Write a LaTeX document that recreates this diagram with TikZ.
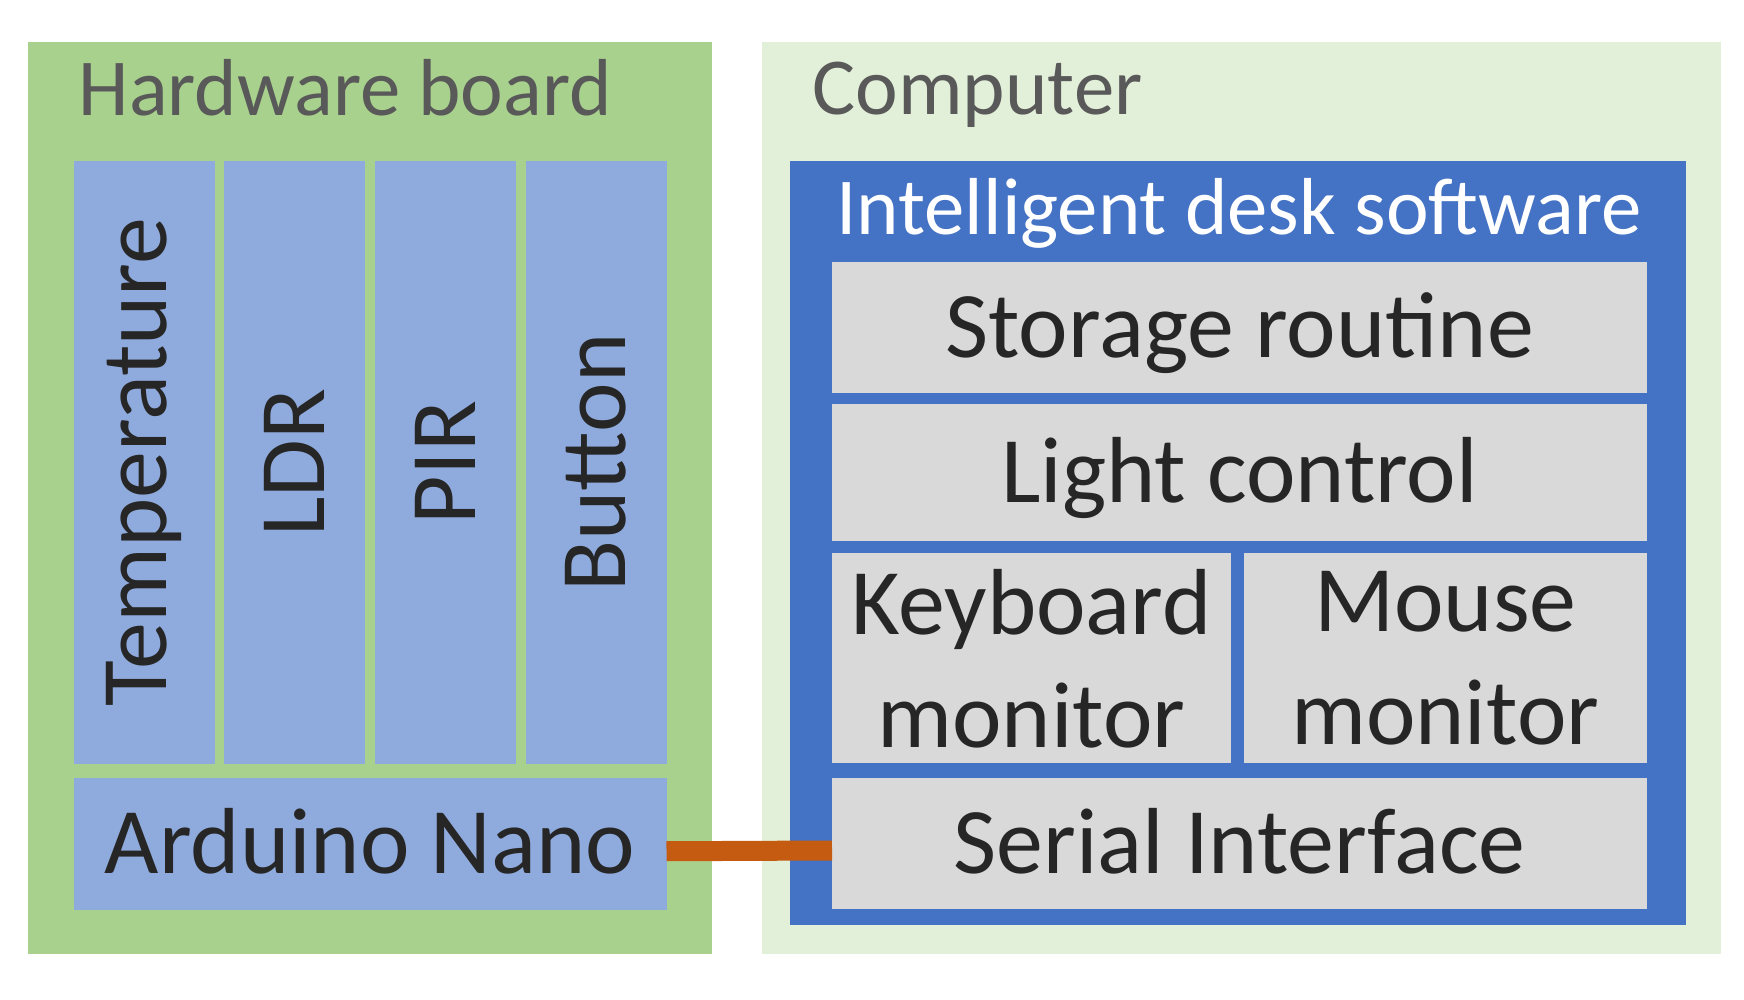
\documentclass[tikz,border=0pt]{standalone}
\usepackage{fontspec}
\setmainfont{Carlito}
\usetikzlibrary{positioning}
\definecolor{board-green}{HTML}{A9D18E}
\definecolor{pc-green}{HTML}{E2F0D9}
\definecolor{sw-blue}{HTML}{4472C4}
\definecolor{part-blue}{HTML}{8FAADC}
\definecolor{part-grey}{HTML}{D9D9D9}
\definecolor{wire}{HTML}{C55A11}
\colorlet{caption}{black!65}
\colorlet{body}{black!85}
\tikzset{
  unit/.style 2 args={
    rectangle,
    fill=#1,
    minimum width=#2,
    inner sep=0pt,
    outer sep=0pt,
    align=center,
    text=body,
    font=\fontsize{26.7}{32.2}\selectfont},
  oneline/.style={text height=22pt, text depth=5.2pt},
}

\begin{document}
\begin{tikzpicture}[
  title/.style={anchor=base west, inner sep=0pt, text=caption, font=\fontsize{23}{27}\selectfont},
  sensor/.style={unit={part-blue}{1.41cm}, minimum height=6.03cm},
  module/.style={unit={part-grey}{8.15cm}, minimum height=1.31cm, oneline},
  link/.style={line width=0.2cm, wire}
]
\useasboundingbox (0, 0) rectangle (17.44, -10);

% Hardware board
\node[unit={board-green}{6.84cm}, minimum height=9.12cm] (board) at (3.70, -4.98) {};
\node[title] (boardtitle) at (0.78, -1.157) {Hardware board};
\node[sensor] (temp) at (1.44, -4.625) {\rotatebox{90}{Temperature}};
\node[sensor, right=0.097cm of temp] (ldr) {\rotatebox{90}{LDR}};
\node[sensor, right=0.097cm of ldr] (pir) {\rotatebox{90}{PIR}};
\node[sensor, right=0.097cm of pir] (button) {\rotatebox{90}{Button}};
\node[unit={part-blue}{5.93cm}, minimum height=1.315cm, oneline, below=0.145cm of temp.south west, anchor=north west] (arduino) {Arduino Nano};

% Computer
\node[unit={pc-green}{9.59cm}, minimum height=9.12cm] (computer) at (12.415, -4.98) {};
\node[title] (pctitle) at (8.12, -1.15) {Computer};
\node[unit={sw-blue}{8.96cm}, minimum height=7.64cm] (software) at (12.38, -5.43) {};
\node[title, anchor=base, text=white] (swtitle) at (12.39, -2.345) {Intelligent desk software};
\node[module] (storage) at (12.395, -3.28) {Storage routine};
\node[module, minimum height=1.37cm, below=0.11cm of storage] (light) {Light control};
\node[unit={part-grey}{3.99cm}, minimum height=2.10cm, below=0.12cm of light.south west, anchor=north west] (keyboard) {Keyboard\\monitor};
\node[unit={part-grey}{4.035cm}, minimum height=2.10cm, right=0.125cm of keyboard] (mouse) {Mouse\\monitor};
\node[module, below=0.145cm of keyboard.south west, anchor=north west] (serial) {Serial Interface};

% Link
\draw[link] ([yshift=-0.07cm]arduino.east) -- ([yshift=-0.07cm]serial.west);
\end{tikzpicture}
\end{document}
